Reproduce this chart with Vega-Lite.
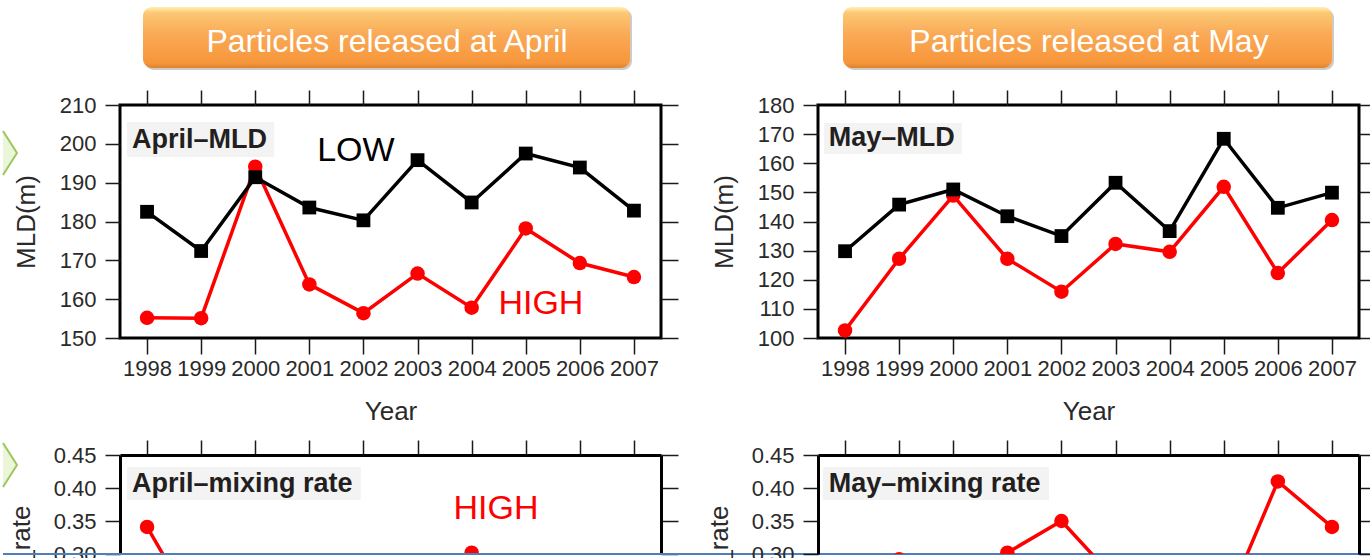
{
 "$schema": "https://vega.github.io/schema/vega-lite/v6.json",
 "padding": {"left": 0, "top": 5, "right": 0, "bottom": 0},
 "background": "white",
 "bounds": "flush",
 "columns": 2,
 "spacing": {"row": 117, "column": 157},
 "config": {
  "view": {"stroke": "#000000", "strokeWidth": 3},
  "axis": {"grid": false, "domain": false, "tickColor": "#1a1a1a", "tickWidth": 1.5, "labelFont": "Liberation Sans", "titleFont": "Liberation Sans", "labelFontSize": 22, "labelColor": "#2a2a2a", "titleColor": "#2a2a2a", "titleFontWeight": "normal", "titleFontSize": 26, "labelOverlap": false, "labelFlush": false},
  "text": {"font": "Liberation Sans"}
 },
 "concat": [
  {
   "width": 541, "height": 233,
   "data": {"values": [
    {"kind": "s", "series": "HIGH", "year": 1998, "v": 155.2},
    {"kind": "s", "series": "HIGH", "year": 1999, "v": 155.1},
    {"kind": "s", "series": "HIGH", "year": 2000, "v": 194.1},
    {"kind": "s", "series": "HIGH", "year": 2001, "v": 163.8},
    {"kind": "s", "series": "HIGH", "year": 2002, "v": 156.4},
    {"kind": "s", "series": "HIGH", "year": 2003, "v": 166.6},
    {"kind": "s", "series": "HIGH", "year": 2004, "v": 157.8},
    {"kind": "s", "series": "HIGH", "year": 2005, "v": 178.2},
    {"kind": "s", "series": "HIGH", "year": 2006, "v": 169.3},
    {"kind": "s", "series": "HIGH", "year": 2007, "v": 165.7},
    {"kind": "s", "series": "LOW", "year": 1998, "v": 182.5},
    {"kind": "s", "series": "LOW", "year": 1999, "v": 172.4},
    {"kind": "s", "series": "LOW", "year": 2000, "v": 191.4},
    {"kind": "s", "series": "LOW", "year": 2001, "v": 183.6},
    {"kind": "s", "series": "LOW", "year": 2002, "v": 180.3},
    {"kind": "s", "series": "LOW", "year": 2003, "v": 195.8},
    {"kind": "s", "series": "LOW", "year": 2004, "v": 184.9},
    {"kind": "s", "series": "LOW", "year": 2005, "v": 197.5},
    {"kind": "s", "series": "LOW", "year": 2006, "v": 193.9},
    {"kind": "s", "series": "LOW", "year": 2007, "v": 182.8},
    {"kind": "box", "year": 1997.63, "year2": 2000.35, "v": 205.6, "v2": 196.6},
    {"kind": "lab", "year": 1997.72, "v": 201.1, "txt": "April–MLD"},
    {"kind": "ann", "series": "LOW", "year": 2001.86, "v": 198.2, "txt": "LOW"},
    {"kind": "ann", "series": "HIGH", "year": 2005.28, "v": 158.8, "txt": "HIGH"},
    {"kind": "hshadow", "year": 1997.962, "year2": 2006.964, "v": 234.72, "v2": 219.01},
    {"kind": "hbox", "year": 1997.925, "year2": 2006.927, "v": 235.24, "v2": 219.53},
    {"kind": "htxt", "year": 2002.435, "v": 226.2, "txt": "Particles released at April"},
    {"kind": "arrow", "year": 1995.596, "v": 197.64}
   ]},
   "encoding": {
    "x": {"field": "year", "type": "quantitative", "scale": {"domain": [1997.5, 2007.5], "nice": false, "zero": false}, "axis": null},
    "y": {"field": "v", "type": "quantitative", "scale": {"domain": [150, 210], "nice": false, "zero": false}, "axis": null}
   },
   "layer": [
    {"transform": [{"filter": "datum.kind==='box'"}], "mark": {"type": "rect", "fill": "#f3f3f3"},
     "encoding": {
      "x": {"field": "year", "type": "quantitative", "scale": {"domain": [1997.5, 2007.5], "nice": false, "zero": false}, "axis": {"orient": "bottom", "values": [1998, 1999, 2000, 2001, 2002, 2003, 2004, 2005, 2006, 2007], "format": "d", "title": "Year", "tickSize": 16, "labelPadding": 4, "titleBaseline": "alphabetic", "titleX": 270.5, "titleY": 81}},
      "x2": {"field": "year2"},
      "y": {"field": "v", "type": "quantitative", "scale": {"domain": [150, 210], "nice": false, "zero": false}, "axis": {"orient": "left", "values": [150, 160, 170, 180, 190, 200, 210], "title": "MLD(m)", "tickSize": 15, "labelPadding": 9, "titleAngle": -90, "titleBaseline": "alphabetic", "titleAlign": "center", "titleX": -86, "titleY": 116.5}},
      "y2": {"field": "v2"}
     }},
    {"transform": [{"filter": "datum.kind==='hshadow'"}], "mark": {"type": "rect", "cornerRadius": 9, "fill": "#9a8a7a", "opacity": 0.45}, "encoding": {"x2": {"field": "year2"}, "y2": {"field": "v2"}}},
    {"transform": [{"filter": "datum.kind==='hbox'"}], "mark": {"type": "rect", "cornerRadius": 9, "fill": {"gradient": "linear", "x1": 0, "y1": 0, "x2": 0, "y2": 1, "stops": [{"offset": 0, "color": "#fff0b0"}, {"offset": 0.1, "color": "#fcc773"}, {"offset": 0.45, "color": "#faa956"}, {"offset": 0.92, "color": "#f7963a"}, {"offset": 1, "color": "#d9822f"}]}}, "encoding": {"x2": {"field": "year2"}, "y2": {"field": "v2"}}},
    {"transform": [{"filter": "datum.kind==='htxt'"}], "mark": {"type": "text", "color": "white", "fontSize": 32, "align": "center", "baseline": "middle"}, "encoding": {"text": {"field": "txt"}}},
    {"transform": [{"filter": "datum.kind==='arrow'"}], "mark": {"type": "point", "shape": "M-1,-1.5714L0,0L-1,1.5714", "size": 784, "filled": true, "fill": "#eaf5d9", "stroke": "#9cc65a", "strokeWidth": 2, "strokeJoin": "round", "opacity": 1, "fillOpacity": 1, "strokeOpacity": 1}},
    {"transform": [{"filter": "datum.kind==='lab'"}], "mark": {"type": "text", "align": "left", "baseline": "middle", "fontSize": 27, "fontWeight": "bold", "color": "#231f20"}, "encoding": {"text": {"field": "txt"}}},
    {"transform": [{"filter": "datum.kind==='s' && datum.series==='HIGH'"}], "mark": {"type": "line", "color": "#ff0000", "strokeWidth": 3.5},
     "encoding": {
      "x": {"field": "year", "type": "quantitative", "scale": {"domain": [1997.5, 2007.5], "nice": false, "zero": false}, "axis": {"orient": "top", "values": [1998, 1999, 2000, 2001, 2002, 2003, 2004, 2005, 2006, 2007], "labels": false, "tickSize": 15, "title": null}},
      "y": {"field": "v", "type": "quantitative", "scale": {"domain": [150, 210], "nice": false, "zero": false}, "axis": {"orient": "right", "values": [150, 160, 170, 180, 190, 200, 210], "labels": false, "tickSize": 17, "title": null}}
     }},
    {"transform": [{"filter": "datum.kind==='s' && datum.series==='HIGH'"}], "mark": {"type": "point", "shape": "circle", "filled": true, "color": "#ff0000", "size": 210, "opacity": 1}},
    {"transform": [{"filter": "datum.kind==='s' && datum.series==='LOW'"}], "mark": {"type": "line", "color": "#000000", "strokeWidth": 3.5}},
    {"transform": [{"filter": "datum.kind==='s' && datum.series==='LOW'"}], "mark": {"type": "point", "shape": "square", "filled": true, "color": "#000000", "size": 190, "opacity": 1}},
    {"transform": [{"filter": "datum.kind==='ann' && datum.series==='LOW'"}], "mark": {"type": "text", "align": "center", "baseline": "middle", "fontSize": 34, "color": "#000000"}, "encoding": {"text": {"field": "txt"}}},
    {"transform": [{"filter": "datum.kind==='ann' && datum.series==='HIGH'"}], "mark": {"type": "text", "align": "center", "baseline": "middle", "fontSize": 34, "color": "#ff0000"}, "encoding": {"text": {"field": "txt"}}}
   ],
   "resolve": {"axis": {"x": "independent", "y": "independent"}}
  },
  {
   "width": 541, "height": 233,
   "data": {"values": [
    {"kind": "s", "series": "HIGH", "year": 1998, "v": 102.6},
    {"kind": "s", "series": "HIGH", "year": 1999, "v": 127.2},
    {"kind": "s", "series": "HIGH", "year": 2000, "v": 148.9},
    {"kind": "s", "series": "HIGH", "year": 2001, "v": 127.2},
    {"kind": "s", "series": "HIGH", "year": 2002, "v": 115.9},
    {"kind": "s", "series": "HIGH", "year": 2003, "v": 132.3},
    {"kind": "s", "series": "HIGH", "year": 2004, "v": 129.6},
    {"kind": "s", "series": "HIGH", "year": 2005, "v": 151.9},
    {"kind": "s", "series": "HIGH", "year": 2006, "v": 122.3},
    {"kind": "s", "series": "HIGH", "year": 2007, "v": 140.5},
    {"kind": "s", "series": "LOW", "year": 1998, "v": 129.8},
    {"kind": "s", "series": "LOW", "year": 1999, "v": 145.8},
    {"kind": "s", "series": "LOW", "year": 2000, "v": 151.0},
    {"kind": "s", "series": "LOW", "year": 2001, "v": 141.8},
    {"kind": "s", "series": "LOW", "year": 2002, "v": 135.0},
    {"kind": "s", "series": "LOW", "year": 2003, "v": 153.3},
    {"kind": "s", "series": "LOW", "year": 2004, "v": 136.7},
    {"kind": "s", "series": "LOW", "year": 2005, "v": 168.4},
    {"kind": "s", "series": "LOW", "year": 2006, "v": 144.7},
    {"kind": "s", "series": "LOW", "year": 2007, "v": 149.9},
    {"kind": "box", "year": 1997.61, "year2": 2000.16, "v": 173.8, "v2": 163.2},
    {"kind": "lab", "year": 1997.7, "v": 168.5, "txt": "May–MLD"},
    {"kind": "hshadow", "year": 1997.999, "year2": 2007.038, "v": 212.96, "v2": 192.02},
    {"kind": "hbox", "year": 1997.962, "year2": 2007.001, "v": 213.65, "v2": 192.7},
    {"kind": "htxt", "year": 2002.509, "v": 201.6, "txt": "Particles released at May"}
   ]},
   "encoding": {
    "x": {"field": "year", "type": "quantitative", "scale": {"domain": [1997.5, 2007.5], "nice": false, "zero": false}, "axis": null},
    "y": {"field": "v", "type": "quantitative", "scale": {"domain": [100, 180], "nice": false, "zero": false}, "axis": null}
   },
   "layer": [
    {"transform": [{"filter": "datum.kind==='box'"}], "mark": {"type": "rect", "fill": "#f3f3f3"},
     "encoding": {
      "x": {"field": "year", "type": "quantitative", "scale": {"domain": [1997.5, 2007.5], "nice": false, "zero": false}, "axis": {"orient": "bottom", "values": [1998, 1999, 2000, 2001, 2002, 2003, 2004, 2005, 2006, 2007], "format": "d", "title": "Year", "tickSize": 16, "labelPadding": 4, "titleBaseline": "alphabetic", "titleX": 270.5, "titleY": 81}},
      "x2": {"field": "year2"},
      "y": {"field": "v", "type": "quantitative", "scale": {"domain": [100, 180], "nice": false, "zero": false}, "axis": {"orient": "left", "values": [100, 110, 120, 130, 140, 150, 160, 170, 180], "title": "MLD(m)", "tickSize": 15, "labelPadding": 9, "titleAngle": -90, "titleBaseline": "alphabetic", "titleAlign": "center", "titleX": -86, "titleY": 116.5}},
      "y2": {"field": "v2"}
     }},
    {"transform": [{"filter": "datum.kind==='hshadow'"}], "mark": {"type": "rect", "cornerRadius": 9, "fill": "#9a8a7a", "opacity": 0.45}, "encoding": {"x2": {"field": "year2"}, "y2": {"field": "v2"}}},
    {"transform": [{"filter": "datum.kind==='hbox'"}], "mark": {"type": "rect", "cornerRadius": 9, "fill": {"gradient": "linear", "x1": 0, "y1": 0, "x2": 0, "y2": 1, "stops": [{"offset": 0, "color": "#fff0b0"}, {"offset": 0.1, "color": "#fcc773"}, {"offset": 0.45, "color": "#faa956"}, {"offset": 0.92, "color": "#f7963a"}, {"offset": 1, "color": "#d9822f"}]}}, "encoding": {"x2": {"field": "year2"}, "y2": {"field": "v2"}}},
    {"transform": [{"filter": "datum.kind==='htxt'"}], "mark": {"type": "text", "color": "white", "fontSize": 32, "align": "center", "baseline": "middle"}, "encoding": {"text": {"field": "txt"}}},
    {"transform": [{"filter": "datum.kind==='lab'"}], "mark": {"type": "text", "align": "left", "baseline": "middle", "fontSize": 27, "fontWeight": "bold", "color": "#231f20"}, "encoding": {"text": {"field": "txt"}}},
    {"transform": [{"filter": "datum.kind==='s' && datum.series==='HIGH'"}], "mark": {"type": "line", "color": "#ff0000", "strokeWidth": 3.5},
     "encoding": {
      "x": {"field": "year", "type": "quantitative", "scale": {"domain": [1997.5, 2007.5], "nice": false, "zero": false}, "axis": {"orient": "top", "values": [1998, 1999, 2000, 2001, 2002, 2003, 2004, 2005, 2006, 2007], "labels": false, "tickSize": 15, "title": null}},
      "y": {"field": "v", "type": "quantitative", "scale": {"domain": [100, 180], "nice": false, "zero": false}, "axis": {"orient": "right", "values": [100, 110, 120, 130, 140, 150, 160, 170, 180], "labels": false, "tickSize": 17, "title": null}}
     }},
    {"transform": [{"filter": "datum.kind==='s' && datum.series==='HIGH'"}], "mark": {"type": "point", "shape": "circle", "filled": true, "color": "#ff0000", "size": 210, "opacity": 1}},
    {"transform": [{"filter": "datum.kind==='s' && datum.series==='LOW'"}], "mark": {"type": "line", "color": "#000000", "strokeWidth": 3.5}},
    {"transform": [{"filter": "datum.kind==='s' && datum.series==='LOW'"}], "mark": {"type": "point", "shape": "square", "filled": true, "color": "#000000", "size": 190, "opacity": 1}}
   ],
   "resolve": {"axis": {"x": "independent", "y": "independent"}}
  },
  {
   "width": 541, "height": 99, "view": {"stroke": null},
   "data": {"values": [
    {"kind": "s", "series": "HIGH", "year": 1998, "v": 0.341},
    {"kind": "s", "series": "HIGH", "year": 1999, "v": 0.2},
    {"kind": "s", "series": "HIGH", "year": 2003, "v": 0.24},
    {"kind": "s", "series": "HIGH", "year": 2004, "v": 0.302},
    {"kind": "s", "series": "HIGH", "year": 2005, "v": 0.24},
    {"kind": "box", "year": 1997.63, "year2": 2001.95, "v": 0.4318, "v2": 0.3818},
    {"kind": "lab", "year": 1997.72, "v": 0.4068, "txt": "April–mixing rate"},
    {"kind": "ann", "series": "HIGH", "year": 2004.45, "v": 0.3682, "txt": "HIGH"},
    {"kind": "rule", "year": 1995.337, "year2": 2020.6, "v": 0.3},
    {"kind": "arrow", "year": 1995.596, "v": 0.43485}
   ]},
   "encoding": {
    "x": {"field": "year", "type": "quantitative", "scale": {"domain": [1997.5, 2007.5], "nice": false, "zero": false}, "axis": null},
    "y": {"field": "v", "type": "quantitative", "scale": {"domain": [0.3, 0.45], "nice": false, "zero": false}, "axis": null}
   },
   "layer": [
    {"transform": [{"filter": "datum.kind==='box'"}], "mark": {"type": "rect", "fill": "#f3f3f3"},
     "encoding": {
      "x": {"field": "year", "type": "quantitative", "scale": {"domain": [1997.5, 2007.5], "nice": false, "zero": false}, "axis": {"orient": "top", "values": [1998, 1999, 2000, 2001, 2002, 2003, 2004, 2005, 2006, 2007], "labels": false, "tickSize": 15, "title": null, "domain": true, "domainColor": "#000000", "domainWidth": 3}},
      "x2": {"field": "year2"},
      "y": {"field": "v", "type": "quantitative", "scale": {"domain": [0.3, 0.45], "nice": false, "zero": false}, "axis": {"orient": "left", "values": [0.3, 0.35, 0.4, 0.45], "format": ".2f", "title": "Mixing_rate", "tickSize": 15, "labelPadding": 9, "domain": true, "domainColor": "#000000", "domainWidth": 3, "titleAngle": -90, "titleBaseline": "alphabetic", "titleAlign": "right", "titleX": -91, "titleY": 50}},
      "y2": {"field": "v2"}
     }},
    {"transform": [{"filter": "datum.kind==='arrow'"}], "mark": {"type": "point", "shape": "M-1,-1.5714L0,0L-1,1.5714", "size": 784, "filled": true, "fill": "#eaf5d9", "stroke": "#9cc65a", "strokeWidth": 2, "strokeJoin": "round", "opacity": 1, "fillOpacity": 1, "strokeOpacity": 1}},
    {"transform": [{"filter": "datum.kind==='lab'"}], "mark": {"type": "text", "align": "left", "baseline": "middle", "fontSize": 27, "fontWeight": "bold", "color": "#231f20"}, "encoding": {"text": {"field": "txt"}}},
    {"transform": [{"filter": "datum.kind==='s' && datum.series==='HIGH'"}], "mark": {"type": "line", "color": "#ff0000", "strokeWidth": 3.5, "clip": true},
     "encoding": {
      "y": {"field": "v", "type": "quantitative", "scale": {"domain": [0.3, 0.45], "nice": false, "zero": false}, "axis": {"orient": "right", "values": [0.3, 0.35, 0.4, 0.45], "labels": false, "tickSize": 17, "title": null, "domain": true, "domainColor": "#000000", "domainWidth": 3}}
     }},
    {"transform": [{"filter": "datum.kind==='s' && datum.series==='HIGH'"}], "mark": {"type": "point", "shape": "circle", "filled": true, "color": "#ff0000", "size": 210, "opacity": 1, "clip": true}},
    {"transform": [{"filter": "datum.kind==='ann' && datum.series==='HIGH'"}], "mark": {"type": "text", "align": "center", "baseline": "middle", "fontSize": 34, "color": "#ff0000"}, "encoding": {"text": {"field": "txt"}}},
    {"transform": [{"filter": "datum.kind==='rule'"}], "mark": {"type": "rule", "color": "#4f7fbb", "strokeWidth": 2, "clip": false}, "encoding": {"x2": {"field": "year2"}}}
   ],
   "resolve": {"axis": {"x": "independent", "y": "independent"}}
  },
  {
   "width": 541, "height": 99, "view": {"stroke": null},
   "data": {"values": [
    {"kind": "s", "series": "HIGH", "year": 1999, "v": 0.292},
    {"kind": "s", "series": "HIGH", "year": 2000, "v": 0.26},
    {"kind": "s", "series": "HIGH", "year": 2001, "v": 0.302},
    {"kind": "s", "series": "HIGH", "year": 2002, "v": 0.35},
    {"kind": "s", "series": "HIGH", "year": 2003, "v": 0.261},
    {"kind": "s", "series": "HIGH", "year": 2005, "v": 0.216},
    {"kind": "s", "series": "HIGH", "year": 2006, "v": 0.41},
    {"kind": "s", "series": "HIGH", "year": 2007, "v": 0.341},
    {"kind": "box", "year": 1997.59, "year2": 2001.77, "v": 0.4318, "v2": 0.3818},
    {"kind": "lab", "year": 1997.7, "v": 0.4068, "txt": "May–mixing rate"}
   ]},
   "encoding": {
    "x": {"field": "year", "type": "quantitative", "scale": {"domain": [1997.5, 2007.5], "nice": false, "zero": false}, "axis": null},
    "y": {"field": "v", "type": "quantitative", "scale": {"domain": [0.3, 0.45], "nice": false, "zero": false}, "axis": null}
   },
   "layer": [
    {"transform": [{"filter": "datum.kind==='box'"}], "mark": {"type": "rect", "fill": "#f3f3f3"},
     "encoding": {
      "x": {"field": "year", "type": "quantitative", "scale": {"domain": [1997.5, 2007.5], "nice": false, "zero": false}, "axis": {"orient": "top", "values": [1998, 1999, 2000, 2001, 2002, 2003, 2004, 2005, 2006, 2007], "labels": false, "tickSize": 15, "title": null, "domain": true, "domainColor": "#000000", "domainWidth": 3}},
      "x2": {"field": "year2"},
      "y": {"field": "v", "type": "quantitative", "scale": {"domain": [0.3, 0.45], "nice": false, "zero": false}, "axis": {"orient": "left", "values": [0.3, 0.35, 0.4, 0.45], "format": ".2f", "title": "Mixing_rate", "tickSize": 15, "labelPadding": 9, "domain": true, "domainColor": "#000000", "domainWidth": 3, "titleAngle": -90, "titleBaseline": "alphabetic", "titleAlign": "right", "titleX": -91, "titleY": 50}},
      "y2": {"field": "v2"}
     }},
    {"transform": [{"filter": "datum.kind==='lab'"}], "mark": {"type": "text", "align": "left", "baseline": "middle", "fontSize": 27, "fontWeight": "bold", "color": "#231f20"}, "encoding": {"text": {"field": "txt"}}},
    {"transform": [{"filter": "datum.kind==='s' && datum.series==='HIGH'"}], "mark": {"type": "line", "color": "#ff0000", "strokeWidth": 3.5, "clip": true},
     "encoding": {
      "y": {"field": "v", "type": "quantitative", "scale": {"domain": [0.3, 0.45], "nice": false, "zero": false}, "axis": {"orient": "right", "values": [0.3, 0.35, 0.4, 0.45], "labels": false, "tickSize": 17, "title": null, "domain": true, "domainColor": "#000000", "domainWidth": 3}}
     }},
    {"transform": [{"filter": "datum.kind==='s' && datum.series==='HIGH'"}], "mark": {"type": "point", "shape": "circle", "filled": true, "color": "#ff0000", "size": 210, "opacity": 1, "clip": true}}
   ],
   "resolve": {"axis": {"x": "independent", "y": "independent"}}
  }
 ]
}
